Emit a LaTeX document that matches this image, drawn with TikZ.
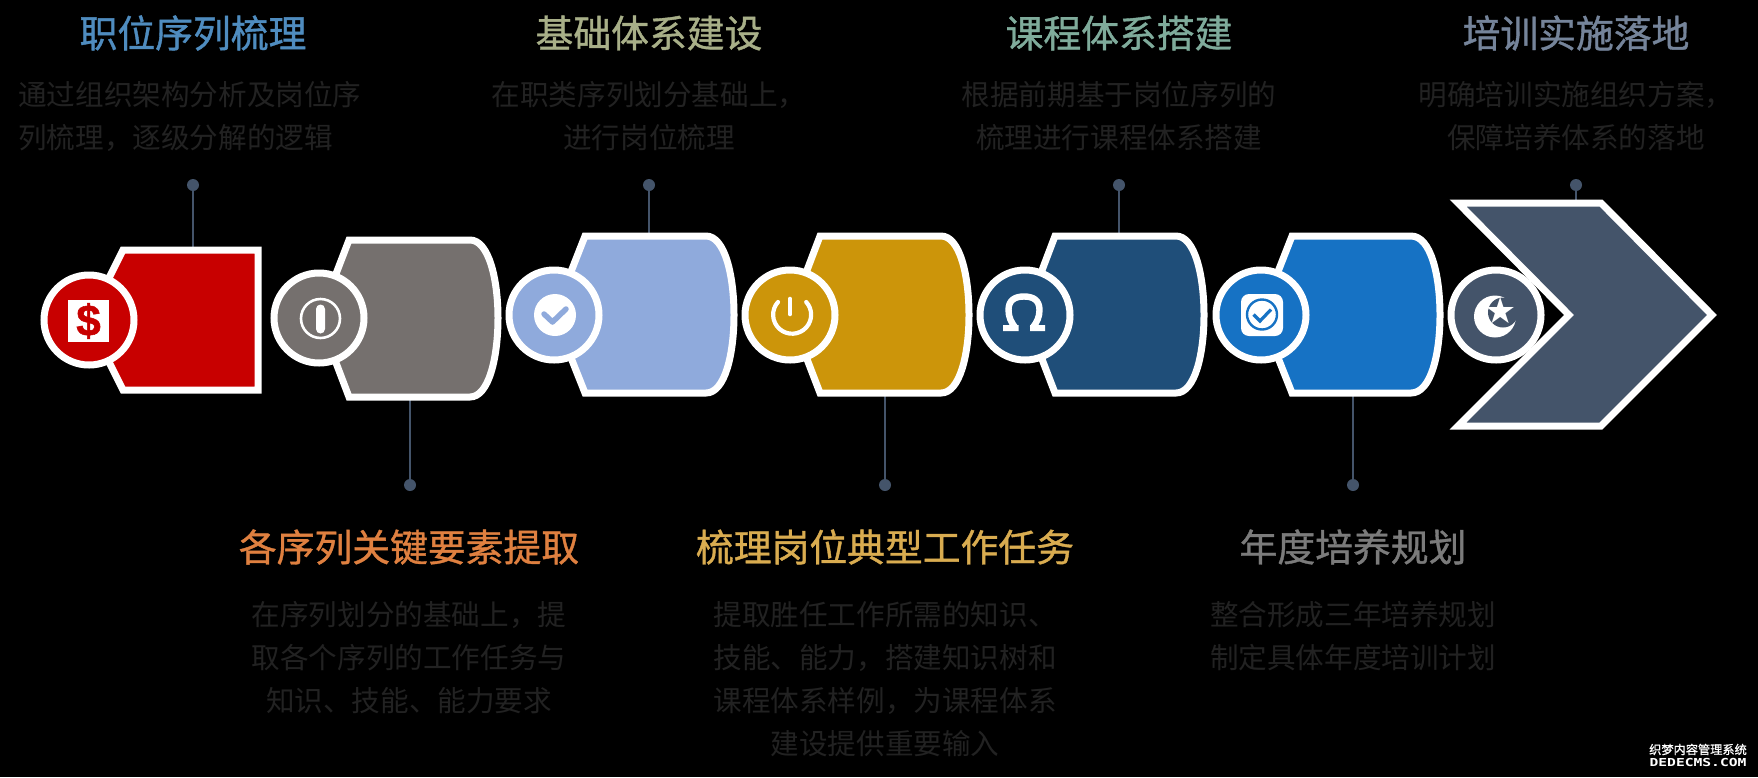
\documentclass[tikz,border=0pt]{standalone}
\usepackage{fontspec}
\newfontfamily\cjk{Noto Sans CJK SC}
\newfontfamily\cjkt[FakeBold=1.0]{Noto Sans CJK SC}
\newfontfamily\glyphs{DejaVu Sans}
\newfontfamily\monog{DejaVu Sans Mono}
\newfontfamily\heavy[BoldFeatures={FakeBold=1.2}]{Liberation Sans}
\definecolor{lineblue}{HTML}{44546A}
\definecolor{bodygray}{HTML}{222222}
\definecolor{cRed}{HTML}{C80000}
\definecolor{cGray}{HTML}{75706E}
\definecolor{cSky}{HTML}{8FAADC}
\definecolor{cGold}{HTML}{CC950A}
\definecolor{cNavy}{HTML}{1F4E79}
\definecolor{cBlue}{HTML}{1672C4}
\definecolor{cSlate}{HTML}{44546A}
\definecolor{tA}{HTML}{4F8CBF}
\definecolor{tB}{HTML}{A8AF88}
\definecolor{tC}{HTML}{7FAB9B}
\definecolor{tD}{HTML}{75849A}
\definecolor{tE}{HTML}{DF8040}
\definecolor{tF}{HTML}{D9AC50}
\definecolor{tG}{HTML}{7B7B7B}
\begin{document}
\begin{tikzpicture}[x=1pt,y=-1pt,
  shapeline/.style={draw=white,line width=7pt,miter limit=10},
  badge/.style={circle,draw=white,line width=7pt,minimum size=90pt,inner sep=0pt,outer sep=0pt},
  pin/.style={circle,fill=lineblue,inner sep=0pt,minimum size=12pt},
  link/.style={draw=lineblue,line width=1.8pt},
  title/.style={text=#1,font=\cjkt\fontsize{37.8}{43}\selectfont,inner sep=0pt,anchor=center},
  body/.style={text=bodygray,font=\cjk\fontsize{28.6}{43}\selectfont,inner sep=0pt,align=center,anchor=north},
  icon/.style={white,line width=#1},
]
\useasboundingbox (0,0) rectangle (1758,777);
\fill[black] (0,0) rectangle (1758,777);

% connectors
\coordinate (a1) at (193,250);
\coordinate (a2) at (410,397);
\coordinate (a3) at (649,236);
\coordinate (a4) at (885,393);
\coordinate (a5) at (1119,236);
\coordinate (a6) at (1353,393);
\coordinate (a7) at (1576,203);
\node[pin] (p1) at (193,185) {};
\node[pin] (p2) at (410,485) {};
\node[pin] (p3) at (649,185) {};
\node[pin] (p4) at (885,485) {};
\node[pin] (p5) at (1119,185) {};
\node[pin] (p6) at (1353,485) {};
\node[pin] (p7) at (1576,185) {};
\foreach \i in {1,...,7} \draw[link] (p\i) -- (a\i);

% step shapes
\path[shapeline,fill=cRed] (123,250) -- (258,250) -- (258,390) -- (123,390) -- (88,320) -- cycle;
\path[shapeline,fill=cGray] (349,240) -- (470,240) .. controls (489,240) and (498,280) .. (498,318) .. controls (498,357) and (489,397) .. (470,397) -- (349,397) -- (319,318) -- cycle;
\path[shapeline,fill=cSky] (585,236) -- (706,236) .. controls (725,236) and (734,276) .. (734,315) .. controls (734,354) and (725,393) .. (706,393) -- (585,393) -- (554,315) -- cycle;
\path[shapeline,fill=cGold] (820,236) -- (941,236) .. controls (960,236) and (969,276) .. (969,315) .. controls (969,354) and (960,393) .. (941,393) -- (820,393) -- (790,315) -- cycle;
\path[shapeline,fill=cNavy] (1055,236) -- (1176,236) .. controls (1195,236) and (1204,276) .. (1204,315) .. controls (1204,354) and (1195,393) .. (1176,393) -- (1055,393) -- (1025,315) -- cycle;
\path[shapeline,fill=cBlue] (1292,236) -- (1411,236) .. controls (1431,236) and (1440,276) .. (1440,315) .. controls (1440,354) and (1431,393) .. (1411,393) -- (1292,393) -- (1261,315) -- cycle;
\path[shapeline,fill=cSlate] (1458,203) -- (1601,203) -- (1712,315) -- (1601,426) -- (1458,426) -- (1569,315) -- cycle;

% badges
\node[badge,fill=cRed] (b1) at (89,320) {};
\node[badge,fill=cGray] (b2) at (319,318) {};
\node[badge,fill=cSky] (b3) at (554,315) {};
\node[badge,fill=cGold] (b4) at (790,315) {};
\node[badge,fill=cNavy] (b5) at (1025,315) {};
\node[badge,fill=cBlue] (b6) at (1261,315) {};
\node[badge,fill=cSlate] (b7) at (1496,315) {};

% icon 1: dollar
\fill[white] (68,300) rectangle (109,342);
\node[text=cRed,font=\heavy\bfseries\fontsize{44}{44}\selectfont,inner sep=0pt] (i1) at (88.5,321) {\$};
% icon 2: ring and pill
\draw[icon=2.6pt] (320.5,318.5) circle (19.5);
\fill[white,rounded corners=4.5pt] (316,304.5) rectangle (325,333.5);
% icon 3: check disc
\fill[white] (555,315) circle (21);
\draw[cSky,line width=5.5pt,line cap=round,line join=round] (544,314) -- (552.5,322) -- (566,309);
% icon 4: power
\draw[white,line width=4.2pt,line cap=round] (778,302) arc[start angle=222,end angle=-42,radius=19];
\draw[white,line width=4.6pt,line cap=round] (790,299) -- (790,314);
% icon 5: omega
\draw[white,line width=6.4pt] (1015.5,328) .. controls (1011,322) and (1008.5,317) .. (1008.5,310) .. controls (1008.5,300) and (1015,296.5) .. (1024,296.5) .. controls (1033,296.5) and (1039.5,300) .. (1039.5,310) .. controls (1039.5,317) and (1037,322) .. (1032.5,328);
\fill[white] (1003,325) rectangle (1018.5,331) (1030,325) rectangle (1045,331);
% icon 6: rounded square with ring and tick
\fill[white,rounded corners=8pt] (1241,294) rectangle (1283,336);
\draw[cBlue,line width=2.4pt] (1262,314.5) circle (15);
\draw[cBlue,line width=3.2pt] (1253.5,314.5) -- (1260,321) -- (1271,309.5);
% icon 7: crescent and star
\fill[white] (1495,316.5) circle (21);
\fill[cSlate] (1503,312.5) circle (15);
\node[text=white,font=\glyphs\fontsize{36}{36}\selectfont,inner sep=0pt] (i7) at (1501,311) {★};

% titles
\node[title=tA] (t1) at (193,33) {职位序列梳理};
\node[title=tB] (t2) at (649,33) {基础体系建设};
\node[title=tC] (t3) at (1119,33) {课程体系搭建};
\node[title=tD] (t4) at (1576,33) {培训实施落地};
\node[title=tE] (t5) at (409,547) {各序列关键要素提取};
\node[title=tF] (t6) at (885,547) {梳理岗位典型工作任务};
\node[title=tG] (t7) at (1353,547) {年度培养规划};

% descriptions
\node[body,align=left,anchor=north west] (d1) at (18,81) {通过组织架构分析及岗位序\\列梳理，逐级分解的逻辑};
\node[body] (d2) at (649,81) {在职类序列划分基础上，\\进行岗位梳理};
\node[body] (d3) at (1119,81) {根据前期基于岗位序列的\\梳理进行课程体系搭建};
\node[body] (d4) at (1576,81) {明确培训实施组织方案，\\保障培养体系的落地};
\node[body] (d5) at (409,601) {在序列划分的基础上，提\\取各个序列的工作任务与\\知识、技能、能力要求};
\node[body] (d6) at (885,601) {提取胜任工作所需的知识、\\技能、能力，搭建知识树和\\课程体系样例，为课程体系\\建设提供重要输入};
\node[body] (d7) at (1353,601) {整合形成三年培养规划\\制定具体年度培训计划};

% watermark
\node[text=white,font=\cjkt\fontsize{12.2}{12}\selectfont,inner sep=0pt] (w1) at (1698,749.5) {织梦内容管理系统};
\node[text=white,font=\monog\bfseries\fontsize{11}{11}\selectfont,inner sep=0pt,xscale=1.33] (w2) at (1698,762) {DEDECMS.COM};
\end{tikzpicture}
\end{document}
